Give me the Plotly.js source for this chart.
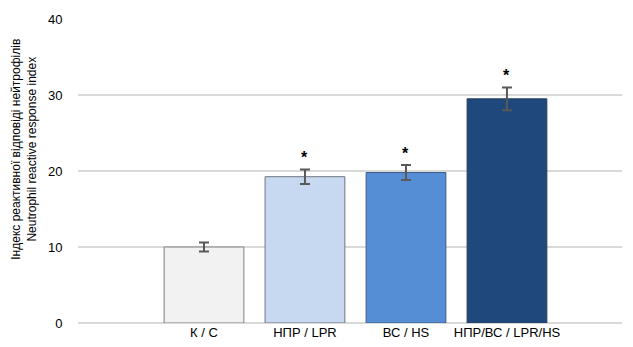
<!DOCTYPE html>
<html>
<head>
<meta charset="utf-8">
<script src="https://cdn.plot.ly/plotly-3.0.1.min.js"></script>
<style>html,body{margin:0;padding:0;background:#fff}#chart{width:633px;height:347px}</style>
</head>
<body>
<div id="chart"></div>
<script>
// Neutrophil reactive response index by group
const groups = ['К / С', 'НПР / LPR', 'ВС / HS', 'НПР/ВС / LPR/HS'];
const values = [10.0, 19.25, 19.8, 29.5];
const errors = [0.6, 0.95, 1.0, 1.5];
const marks = ['', '*', '*', '*'];
const fills = ['#f2f2f2', '#c6d9f1', '#558ed5', '#1f497d'];
const edges = ['#7f7f7f', '#6f7480', '#3e5f8a', '#2a3f5f'];
const yTicks = [0, 10, 20, 30, 40];

const sans = 'Liberation Sans, Arial, sans-serif';

const bars = {
  type: 'bar',
  x: groups,
  y: values,
  width: 0.79,
  marker: {color: fills, line: {color: edges, width: 1}},
  error_y: {type: 'data', array: errors, visible: true, color: '#595959', thickness: 2, width: 5},
  hoverinfo: 'skip'
};

const stars = groups.map((g, i) => ({
  x: g, y: values[i] + errors[i], xref: 'x', yref: 'y',
  text: '<b>' + marks[i] + '</b>', showarrow: false, yanchor: 'bottom', yshift: 1,
  font: {family: sans, size: 16, color: '#000'}
})).filter((a, i) => marks[i]);

const layout = {
  width: 633, height: 347,
  margin: {l: 78, r: 11, t: 19, b: 24},
  paper_bgcolor: '#fff', plot_bgcolor: '#fff',
  showlegend: false,
  font: {family: sans, size: 13, color: '#000'},
  xaxis: {
    type: 'category', range: [-1.2475, 4.139],
    showgrid: false, zeroline: false, showline: false,
    ticks: '', tickfont: {size: 13}, fixedrange: true
  },
  yaxis: {
    range: [0, 40], tickvals: yTicks, ticktext: yTicks.map(String),
    showgrid: true, gridcolor: '#d9d9d9', gridwidth: 2,
    zeroline: true, zerolinecolor: '#d9d9d9', zerolinewidth: 2,
    showline: false, ticks: 'outside', ticklen: 12, tickcolor: 'rgba(0,0,0,0)',
    tickfont: {size: 13}, fixedrange: true
  },
  annotations: stars.concat([{
    xref: 'paper', yref: 'paper', x: 0, y: 0.57, xshift: -54,
    xanchor: 'center', yanchor: 'middle', textangle: -90, showarrow: false,
    text: 'Індекс реактивної відповіді нейтрофілів<br>Neutrophil reactive response index',
    font: {size: 12, color: '#000'}
  }])
};

Plotly.newPlot('chart', [bars], layout, {staticPlot: true, displayModeBar: false});
</script>
</body>
</html>
